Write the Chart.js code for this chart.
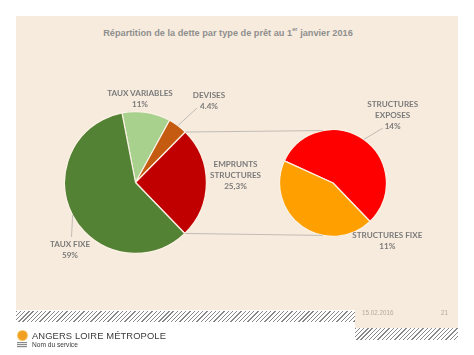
<!DOCTYPE html>
<html>
<head>
<meta charset="utf-8">
<script src="https://cdn.jsdelivr.net/npm/chart.js@4/dist/chart.umd.min.js"></script>
<style>
  html, body { margin:0; padding:0; background:#ffffff; }
  #stage { position:relative; width:474px; height:355px; overflow:hidden; background:#fff; }
  .abs { position:absolute; }
  #panel { left:16px; top:16px; width:442px; height:294px; background:#f7ebdd; }
  #panel2 { left:355px; top:310px; width:103px; height:18px; background:#f7ebdd; }
  .hatch { background: repeating-linear-gradient(135deg, #6a6a6a 0 0.9px, transparent 0.9px 3px); opacity:0.8; }
  #hatch1 { left:16px; top:311px; width:339px; height:11px; }
  #hatch2 { left:355px; top:328px; width:103px; height:12px; }
  #title { left:0; top:28px; width:456px; text-align:center; font-family:"Liberation Sans", Arial, sans-serif; font-weight:bold; font-size:9.2px; color:#8f8f8f; }
  #title sup { font-size:5.8px; vertical-align:top; line-height:1; position:relative; top:-1px; }
  .lbl { font-family:Lato, "Liberation Sans", sans-serif; font-weight:bold; font-size:8.1px; line-height:11px; color:#7a7a7a; text-align:center; white-space:pre; transform:translateX(-50%); }
  #date { left:362px; top:309px; font-family:"Liberation Sans", Arial, sans-serif; font-size:6.3px; color:#b3aba1; }
  #page { left:441px; top:309px; font-family:"Liberation Sans", Arial, sans-serif; font-size:6.3px; color:#b3aba1; }
  #org { left:32px; top:330px; font-family:"Liberation Sans", Arial, sans-serif; font-size:9.4px; color:#3a3a3a; letter-spacing:0.1px; }
  #svc { left:32px; top:341px; font-family:"Liberation Sans", Arial, sans-serif; font-size:6.6px; color:#3a3a3a; }
  #sun { left:17.5px; top:330.5px; width:9px; height:9px; border-radius:50%; background:#f0a01e; box-shadow:0 0 0 1px #f7c66a; }
  #icon { left:17px; top:342px; width:10px; height:6px; background:repeating-linear-gradient(180deg, #8a8a8a 0 1px, #e8e8e8 1px 2px); }
</style>
</head>
<body>
<div id="stage">
  <div id="panel" class="abs"></div>
  <div id="panel2" class="abs"></div>
  <div id="hatch1" class="abs hatch"></div>
  <div id="hatch2" class="abs hatch"></div>
  <div id="title" class="abs">Répartition de la dette par type de prêt au 1<sup>er</sup> janvier 2016</div>
  <canvas id="c1" class="abs" width="143" height="143" style="left:64px;top:111px;"></canvas>
  <canvas id="c2" class="abs" width="108" height="108" style="left:279px;top:129px;"></canvas>
  <canvas id="ov" class="abs" width="474" height="355" style="left:0;top:0;"></canvas>
  <div id="date" class="abs">15.02.2016</div>
  <div id="page" class="abs">21</div>
  <div id="sun" class="abs"></div>
  <div id="icon" class="abs"></div>
  <div id="org" class="abs">ANGERS LOIRE MÉTROPOLE</div>
  <div id="svc" class="abs">Nom du service</div>
</div>
<script>
// ---- data ----
const mainCategories = ['TAUX VARIABLES', 'DEVISES', 'EMPRUNTS\nSTRUCTURES', 'TAUX FIXE'];
const mainValues = [11, 4.4, 25.3, 59];
const mainValueLabels = ['11%', '4.4%', '25,3%', '59%'];
const subCategories = ['STRUCTURES\nEXPOSES', 'STRUCTURES FIXE'];
const subValues = [14, 11];
const subValueLabels = ['14%', '11%'];

// ---- styles / layout ----
const mainColors = ['#a9d18e', '#c55a11', '#c00000', '#548235'];
const subColors = ['#ff0000', '#ffa000'];
const sliceBorder = '#fbf1e4';
const mainLabelLayout = [
  {x:140, y:88, leader:null},
  {x:209, y:89.5, leader:{x:197, y:108}},
  {x:235.5, y:158.5, leader:null},
  {x:70, y:239, leader:{x:71.5, y:237}}
];
const subLabelLayout = [
  {x:392.7, y:98.5, leader:{x:383, y:128}},
  {x:387.3, y:230, leader:null}
];

function pieConfig(labels, values, colors, rotation) {
  return {
    type: 'pie',
    data: { labels: labels, datasets: [{ data: values, backgroundColor: colors, borderColor: sliceBorder, borderWidth: 1.2 }] },
    options: {
      responsive: false, animation: false, rotation: rotation,
      layout: { padding: 0 },
      plugins: { legend: { display: false }, tooltip: { enabled: false } },
      events: []
    }
  };
}

const c1 = new Chart(document.getElementById('c1'), pieConfig(mainCategories, mainValues, mainColors, -11));
const c2 = new Chart(document.getElementById('c2'), pieConfig(subCategories, subValues, subColors, -65.5));

const off1 = {x:64, y:111}, off2 = {x:279, y:129};
function edgePoint(arc, off, ang) {
  return { x: off.x + arc.x + arc.outerRadius * Math.cos(ang), y: off.y + arc.y + arc.outerRadius * Math.sin(ang) };
}

const ov = document.getElementById('ov').getContext('2d');
ov.strokeStyle = '#b4b0aa';
ov.lineWidth = 0.8;
const arcs1 = c1.getDatasetMeta(0).data;
const arcs2 = c2.getDatasetMeta(0).data;
const structArc = arcs1[2];
const a2 = arcs2[0];
const p1 = edgePoint(structArc, off1, structArc.startAngle);
const p2 = edgePoint(structArc, off1, structArc.endAngle);
const q1 = edgePoint(a2, off2, -Math.PI/2 - 11*Math.PI/180);
const q2 = edgePoint(a2, off2, Math.PI/2 + 11*Math.PI/180);
ov.beginPath(); ov.moveTo(p1.x, p1.y); ov.lineTo(q1.x, q1.y); ov.stroke();
ov.beginPath(); ov.moveTo(p2.x, p2.y); ov.lineTo(q2.x, q2.y); ov.stroke();

function placeLabels(chart, off, names, vals, layout) {
  const arcs = chart.getDatasetMeta(0).data;
  const stage = document.getElementById('stage');
  names.forEach((n, i) => {
    const L = layout[i];
    const d = document.createElement('div');
    d.className = 'abs lbl';
    d.style.left = L.x + 'px';
    d.style.top = L.y + 'px';
    d.textContent = n + '\n' + vals[i];
    stage.appendChild(d);
    if (L.leader) {
      const a = arcs[i];
      const mid = (a.startAngle + a.endAngle) / 2;
      const e = edgePoint(a, off, mid);
      ov.beginPath(); ov.moveTo(e.x, e.y); ov.lineTo(L.leader.x, L.leader.y); ov.stroke();
    }
  });
}
placeLabels(c1, off1, mainCategories, mainValueLabels, mainLabelLayout);
placeLabels(c2, off2, subCategories, subValueLabels, subLabelLayout);
</script>
</body>
</html>
